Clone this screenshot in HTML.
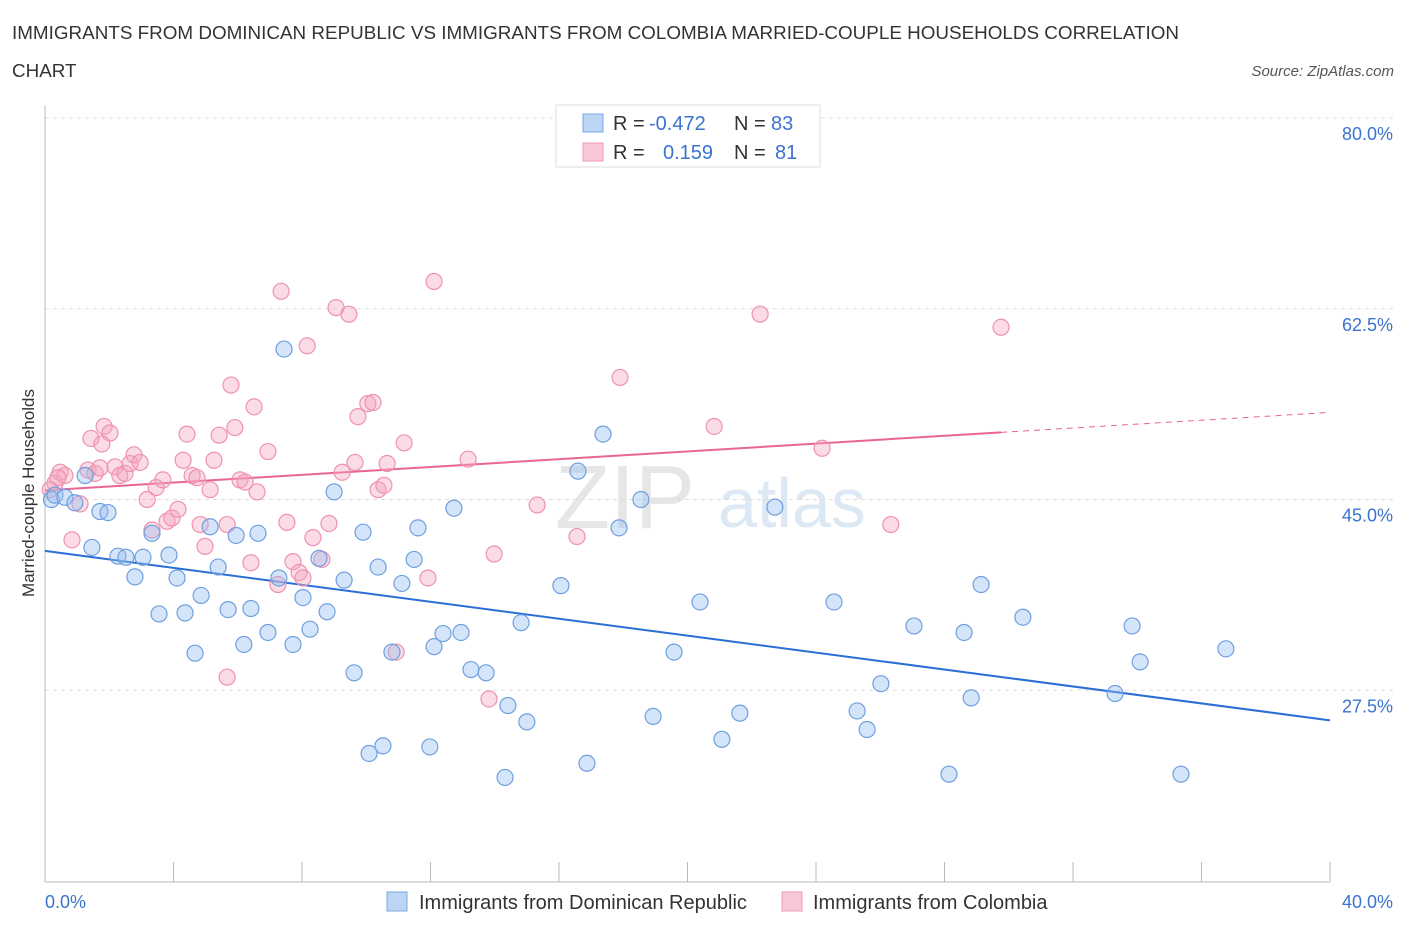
<!DOCTYPE html>
<html><head><meta charset="utf-8">
<style>
body{margin:0;background:#fff;font-family:"Liberation Sans",sans-serif;}
svg text{font-family:"Liberation Sans",sans-serif;}
</style></head>
<body>
<svg id="chart" width="1406" height="930" xmlns="http://www.w3.org/2000/svg">
<text x="12" y="39" font-size="18.85" fill="#333">IMMIGRANTS FROM DOMINICAN REPUBLIC VS IMMIGRANTS FROM COLOMBIA MARRIED-COUPLE HOUSEHOLDS CORRELATION</text>
<text x="12" y="77" font-size="18.85" fill="#333">CHART</text>
<text x="1394" y="76" font-size="15" fill="#555" font-style="italic" text-anchor="end">Source: ZipAtlas.com</text>
<g>
<text x="555" y="528" font-size="90" fill="#e6e6e6" font-family="Liberation Serif">ZIP</text>
<text x="718" y="527" font-size="70" fill="#dde8f5">atlas</text>
</g>
<g id="grid"></g>
<g id="axes"></g>
<g id="trends"></g>
<g id="points"></g>
<text transform="translate(34,493) rotate(-90)" font-size="17" fill="#333" text-anchor="middle">Married-couple Households</text>
<g>
<rect x="556" y="105" width="264" height="62" fill="#fff" stroke="#ddd"/>
<rect x="583" y="114" width="20" height="18" fill="#bcd5f5" stroke="#7aa8e5"/>
<rect x="583" y="143" width="20" height="18" fill="#f9c8d6" stroke="#ee9ab5"/>
<text x="613" y="130" font-size="20" fill="#333">R = <tspan x="649" fill="#3a73d0">-0.472</tspan><tspan x="734">N = </tspan><tspan x="771" fill="#3a73d0">83</tspan></text>
<text x="613" y="159" font-size="20" fill="#333">R = <tspan x="663" fill="#3a73d0">0.159</tspan><tspan x="734">N = </tspan><tspan x="775" fill="#3a73d0">81</tspan></text>
</g>
<g>
<rect x="387" y="892" width="20" height="19" fill="#bcd5f5" stroke="#7aa8e5"/>
<text x="419" y="909" font-size="20" fill="#333">Immigrants from Dominican Republic</text>
<rect x="782" y="892" width="20" height="19" fill="#f9c8d6" stroke="#ee9ab5"/>
<text x="813" y="909" font-size="20" fill="#333">Immigrants from Colombia</text>
</g>
</svg>
<script>
const yTicks=[80,62.5,45,27.5];
const yTickLabels=["80.0%","62.5%","45.0%","27.5%"];
const xEndLabels=["0.0%","40.0%"];
const blueX=[0.2,0.31,0.62,0.93,1.25,1.46,1.71,1.96,2.27,2.52,2.8,3.05,3.33,3.55,3.86,4.11,4.36,4.67,4.86,5.14,5.39,5.7,5.95,6.19,6.41,6.63,6.94,7.28,7.44,7.72,8.03,8.25,8.53,8.78,9.0,9.62,9.31,9.9,10.09,10.37,10.52,10.8,11.11,11.49,11.61,11.98,12.11,12.39,12.73,12.95,13.26,13.73,14.32,14.41,15.0,14.82,16.06,16.59,16.87,17.37,17.87,18.55,18.93,19.58,20.39,21.07,21.63,22.72,24.56,25.28,25.59,26.02,27.05,28.14,28.61,28.83,29.14,30.44,33.31,33.84,34.09,35.36,36.76];
const blueY=[45.0,45.4,45.2,44.7,47.2,40.6,43.9,43.8,39.8,39.7,37.9,39.7,41.9,34.5,39.9,37.8,34.6,30.9,36.2,42.5,38.8,34.9,41.7,31.7,35.0,41.9,32.8,37.8,58.8,31.7,36.0,33.1,39.6,34.7,45.7,29.1,37.6,42.0,21.7,38.8,22.4,31.0,37.3,39.5,42.4,22.3,31.5,32.7,44.2,32.8,29.4,29.1,19.5,26.1,24.6,33.7,37.1,47.6,20.8,51.0,42.4,45.0,25.1,31.0,35.6,23.0,25.4,44.3,35.6,25.6,23.9,28.1,33.4,19.8,32.8,26.8,37.2,34.2,27.2,33.4,30.1,19.8,31.3];
const pinkX=[0.31,0.47,0.62,0.84,1.09,1.34,1.43,1.56,1.71,1.84,2.02,2.18,2.33,2.49,2.65,2.77,2.96,3.18,3.33,3.46,3.67,3.8,3.95,4.14,4.3,4.42,4.58,4.73,4.83,4.98,5.14,5.26,5.42,5.67,5.79,5.91,6.07,6.23,6.41,6.51,6.6,5.67,6.94,7.25,7.35,7.53,7.72,7.91,8.03,8.16,8.34,8.62,8.84,9.06,9.25,9.46,9.65,9.74,10.05,10.21,10.37,10.55,10.65,10.93,11.18,11.92,12.11,13.17,13.82,13.98,15.32,16.56,17.9,20.83,22.26,24.19,26.33,29.76,0.16,0.4,1.77];
const pinkY=[46.5,47.5,47.2,41.3,44.6,47.7,50.6,47.4,47.9,51.7,51.1,48.0,47.2,47.4,48.3,49.1,48.4,45.0,42.2,46.1,46.8,43.0,43.3,44.1,48.6,51.0,47.2,47.0,42.7,40.7,45.9,48.6,50.9,42.7,55.5,51.6,46.8,46.6,39.2,53.5,45.7,28.7,49.4,37.2,64.1,42.9,39.3,38.3,37.8,59.1,41.5,39.5,42.8,62.6,47.5,62.0,48.4,52.6,53.8,53.9,45.9,46.3,48.3,31.0,50.2,37.8,65.0,48.7,26.7,40.0,44.5,41.6,56.2,51.7,62.0,49.7,42.7,60.8,45.9,47.0,50.1];

const NS="http://www.w3.org/2000/svg";
const X0=45,X1=1330,XMAX=40,YTOP=118,PPU=10.9,YBOT=882;
const sx=v=>X0+(X1-X0)*v/XMAX;
const sy=v=>YTOP+(80-v)*PPU;
function mk(tag,attrs,parent){const e=document.createElementNS(NS,tag);for(const k in attrs)e.setAttribute(k,attrs[k]);parent.appendChild(e);return e;}
const grid=document.getElementById('grid'),axes=document.getElementById('axes');
yTicks.forEach((t,i)=>{
 const l=mk('line',{x1:X0,x2:1395,y1:sy(t),y2:sy(t),stroke:'#ddd','stroke-dasharray':'4,4'},grid);
 
 
 const tx=mk('text',{x:1393,y:sy(t)+22,'font-size':18,fill:'#3a73d0','text-anchor':'end'},axes);
 tx.textContent=yTickLabels[i];
 
 
});
const ya=mk('line',{x1:X0,x2:X0,y1:105,y2:YBOT,stroke:'#bbb'},axes);


const xa=mk('line',{x1:X0,x2:X1,y1:YBOT,y2:YBOT,stroke:'#bbb'},axes);


for(let v=0;v<=40;v+=4){
 const tk=mk('line',{x1:sx(v),x2:sx(v),y1:862,y2:YBOT,stroke:'#bbb'},axes);
 
 
}
[[0,'start',45],[40,'end',1393]].forEach((a,i)=>{
 const t=mk('text',{x:a[2],y:908,'font-size':18,fill:'#3a73d0','text-anchor':a[1]},axes);
 t.textContent=xEndLabels[i];
 
 
});
function reg(xs,ys){const n=xs.length;let mx=0,my=0;for(let i=0;i<n;i++){mx+=xs[i];my+=ys[i];}mx/=n;my/=n;let a=0,b=0;for(let i=0;i<n;i++){a+=(xs[i]-mx)*(ys[i]-my);b+=(xs[i]-mx)**2;}const m=a/b;return [m,my-m*mx];}
const trends=document.getElementById('trends');
const [bm,bb]=reg(blueX,blueY);
const bl=mk('line',{x1:sx(0),y1:sy(bb),x2:sx(40),y2:sy(bb+bm*40),stroke:'#2a6fd6','stroke-width':2},trends);


const [pm,pb]=reg(pinkX,pinkY);
const pmax=Math.max(...pinkX);
const pl=mk('line',{x1:sx(0),y1:sy(pb),x2:sx(pmax),y2:sy(pb+pm*pmax),stroke:'#e8668f','stroke-width':2},trends);


const pd=mk('line',{x1:sx(pmax),y1:sy(pb+pm*pmax),x2:sx(40),y2:sy(pb+pm*40),stroke:'#e8668f','stroke-width':1,'stroke-dasharray':'6,5'},trends);


const pts=document.getElementById('points');
pinkX.forEach((x,i)=>{
 const c=mk('circle',{cx:sx(x),cy:sy(pinkY[i]),r:8,fill:'rgba(244,166,191,0.4)',stroke:'#ee92af','stroke-width':1.2},pts);
 
 
});
blueX.forEach((x,i)=>{
 const c=mk('circle',{cx:sx(x),cy:sy(blueY[i]),r:8,fill:'rgba(150,190,240,0.4)',stroke:'#6f9fe0','stroke-width':1.2},pts);
 
 
});
</script>
</body></html>
